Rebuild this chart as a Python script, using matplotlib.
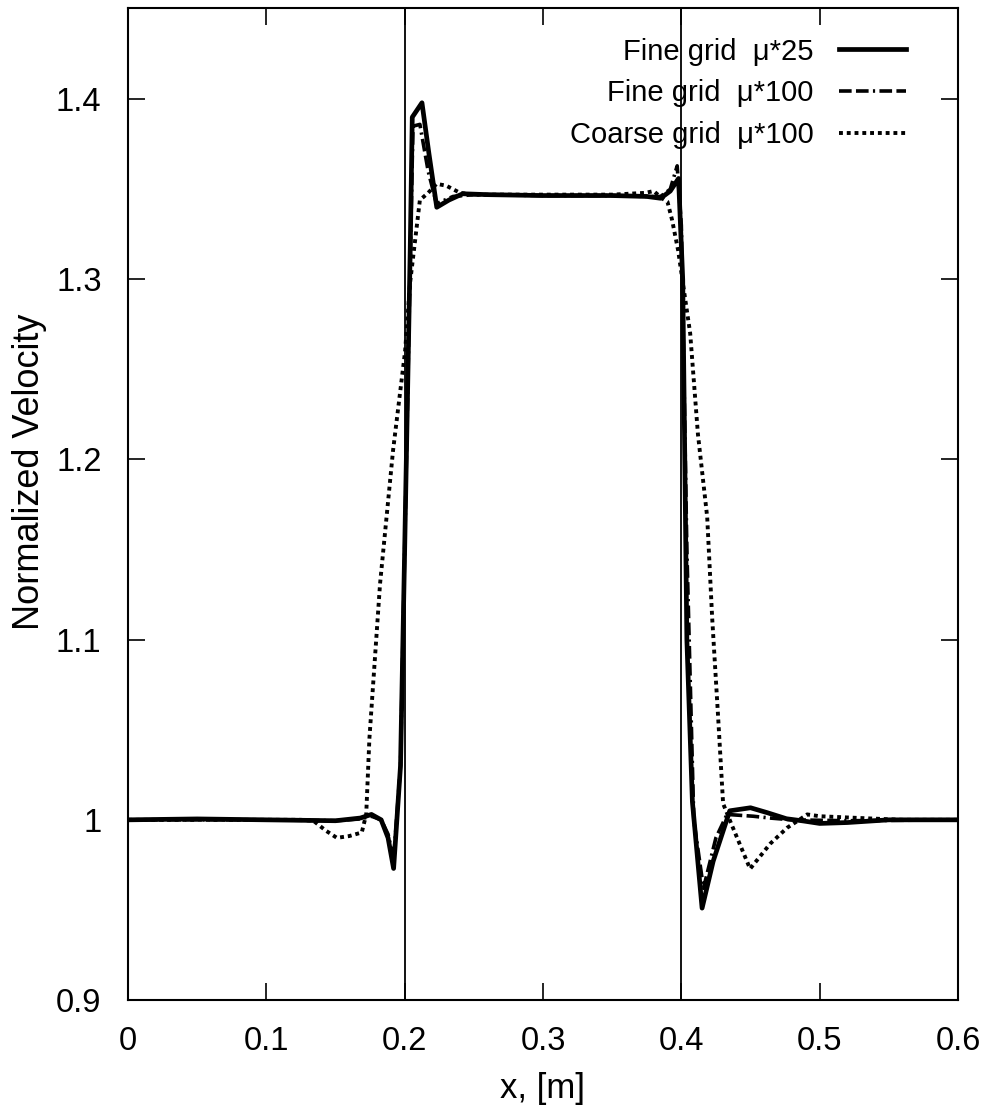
import matplotlib.pyplot as plt

# Fine grid mu*25 (solid)
x_fine25 = [0.0, 0.05, 0.10, 0.15, 0.168, 0.176, 0.183, 0.188, 0.192, 0.197, 0.2, 0.204,
            0.2055, 0.2125, 0.2175, 0.2232, 0.232, 0.242, 0.26, 0.30, 0.35, 0.375, 0.385,
            0.392, 0.398, 0.401, 0.404, 0.408, 0.415, 0.423, 0.435, 0.45, 0.462, 0.476,
            0.488, 0.50, 0.52, 0.55, 0.60]
y_fine25 = [1.0, 1.0005, 1.0, 0.9995, 1.001, 1.003, 1.0, 0.99, 0.973, 1.03, 1.15, 1.316,
            1.39, 1.398, 1.37, 1.34, 1.344, 1.3475, 1.347, 1.3465, 1.3465, 1.346, 1.345,
            1.349, 1.356, 1.30, 1.10, 1.01, 0.951, 0.977, 1.005, 1.0067, 1.004, 1.0006,
            0.9994, 0.998, 0.9985, 1.0, 1.0]

# Fine grid mu*100 (dashed)
x_fine100 = [0.0, 0.05, 0.10, 0.15, 0.168, 0.176, 0.183, 0.188, 0.192, 0.197, 0.2, 0.204,
             0.206, 0.211, 0.217, 0.223, 0.235, 0.25, 0.30, 0.35, 0.375, 0.385, 0.392,
             0.397, 0.400, 0.404, 0.409, 0.416, 0.425, 0.433, 0.452, 0.464, 0.48, 0.52, 0.60]
y_fine100 = [1.0, 1.0, 1.0, 0.9995, 1.0005, 1.002, 1.0, 0.992, 0.978, 1.03, 1.15, 1.31,
             1.385, 1.386, 1.36, 1.342, 1.346, 1.347, 1.3465, 1.3465, 1.346, 1.346, 1.35,
             1.363, 1.33, 1.15, 1.0, 0.962, 0.99, 1.003, 1.002, 1.001, 1.0, 0.9995, 1.0]

# Coarse grid mu*100 (dotted)
x_coarse = [0.0, 0.05, 0.10, 0.125, 0.134, 0.143, 0.151, 0.160, 0.169, 0.1722, 0.1745,
            0.1822, 0.1916, 0.2003, 0.2039, 0.211, 0.217, 0.223, 0.23, 0.24, 0.25, 0.30,
            0.35, 0.374, 0.38, 0.386, 0.39, 0.3933, 0.3977, 0.4064, 0.412, 0.4187, 0.4223,
            0.4266, 0.4302, 0.4367, 0.4497, 0.4642, 0.4765, 0.484, 0.491, 0.50, 0.5293,
            0.56, 0.60]
y_coarse = [1.0, 1.0, 1.0, 1.0, 0.9995, 0.994, 0.99, 0.991, 0.993, 1.003, 1.045,
            1.131, 1.205, 1.26, 1.298, 1.344, 1.348, 1.353, 1.352, 1.348, 1.347, 1.347,
            1.347, 1.348, 1.349, 1.345, 1.343, 1.333, 1.316, 1.27, 1.214, 1.168, 1.112,
            1.057, 1.009, 0.9967, 0.9728, 0.9867, 0.9956, 0.9994, 1.003, 1.002, 1.001,
            1.0, 1.0]

labels = ['Fine grid  \u03bc*25', 'Fine grid  \u03bc*100', 'Coarse grid  \u03bc*100']
x_ticks = [0, 0.1, 0.2, 0.3, 0.4, 0.5, 0.6]
x_ticklabels = ['0', '0.1', '0.2', '0.3', '0.4', '0.5', '0.6']
y_ticks = [0.9, 1.0, 1.1, 1.2, 1.3, 1.4]
y_ticklabels = ['0.9', '1', '1.1', '1.2', '1.3', '1.4']
interfaces = [0.2, 0.4]

plt.rcParams['font.family'] = ['Liberation Sans', 'DejaVu Sans']

fig = plt.figure(figsize=(9.89, 11.10), dpi=100)
ax = fig.add_axes([128 / 989, 1 - 1000 / 1110, 830 / 989, 992 / 1110])

for xv in interfaces:
    ax.axvline(xv, color='black', lw=1.3, zorder=1)

ax.plot(x_fine25, y_fine25, color='black', lw=3.4, label=labels[0], zorder=3)
ax.plot(x_fine100, y_fine100, color='black', lw=2.6, dashes=(3.5, 1.2, 3.5, 1.2, 0.6, 1.2),
        label=labels[1], zorder=3)
ax.plot(x_coarse, y_coarse, color='black', lw=2.8, dashes=(1, 1), label=labels[2], zorder=2)

ax.set_xlim(0, 0.6)
ax.set_ylim(0.9, 1.4506)
ax.set_xticks(x_ticks)
ax.set_xticklabels(x_ticklabels)
ax.set_yticks(y_ticks)
ax.set_yticklabels(y_ticklabels)
ax.tick_params(direction='in', length=12, width=1.2, labelsize=23.5, pad=19,
               top=True, right=True)
for s in ax.spines.values():
    s.set_linewidth(1.5)

ax.set_xlabel('x, [m]', fontsize=25)
ax.xaxis.set_label_coords(0.5, -0.073)
ax.set_ylabel('Normalized Velocity', fontsize=26)
ax.yaxis.set_label_coords(-0.097, 0.533)

ax.legend(loc='upper right', frameon=False, markerfirst=False, fontsize=21,
          handlelength=2.3, handletextpad=0.85, labelspacing=0.47,
          borderaxespad=0.0, bbox_to_anchor=(0.951, 0.982))

fig.savefig('out.png', dpi=100)
